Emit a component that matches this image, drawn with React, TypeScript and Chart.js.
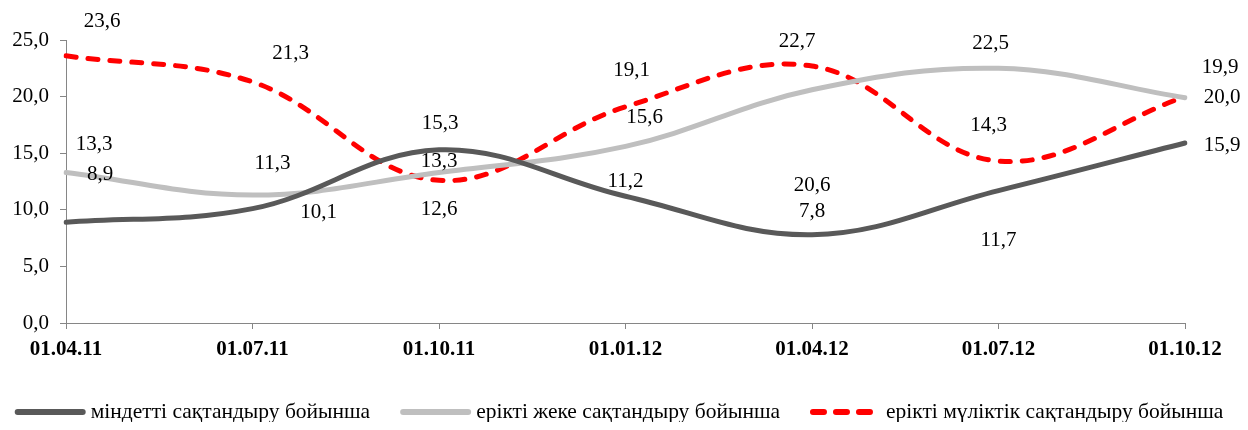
import React, { useEffect, useRef } from "react";
import { Chart, registerables } from "chart.js";

Chart.register(...registerables);

const categories = ["01.04.11", "01.07.11", "01.10.11", "01.01.12", "01.04.12", "01.07.12", "01.10.12"];
const mandatory = [8.9, 10.1, 15.3, 11.2, 7.8, 11.7, 15.9];
const voluntaryPersonal = [13.3, 11.3, 13.3, 15.6, 20.6, 22.5, 19.9];
const voluntaryProperty = [23.6, 21.3, 12.6, 19.1, 22.7, 14.3, 20.0];
const seriesNames = [
  "міндетті сақтандыру бойынша",
  "ерікті жеке сақтандыру бойынша",
  "ерікті мүліктік сақтандыру бойынша",
];
const yMin = 0;
const yMax = 25;
const yStep = 5;

// label placement offsets (px) relative to each point, per series
const LABEL_OFFSETS: number[][][] = [
  [[34, -48], [66, 4], [1, -26], [0, -15], [0, -23], [0, 50], [37, 2]],
  [[28, -28], [20, -32], [0, -11], [19, -29], [0, 96], [-8, -25], [35, -30]],
  [[36, -34], [38, -28], [0, 29], [6, -36], [-15, -25], [-10, -36], [37, 1]],
];

const FONT = "'Liberation Serif', 'Times New Roman', 'DejaVu Serif', serif";

const fmt = (v: number) => v.toFixed(1).replace(".", ",");

const valueLabels = {
  id: "valueLabels",
  afterDatasetsDraw(chart: any) {
    const ctx = chart.ctx;
    ctx.save();
    ctx.font = `21px ${FONT}`;
    ctx.fillStyle = "#000";
    ctx.textAlign = "center";
    ctx.textBaseline = "middle";
    chart.data.datasets.forEach((ds: any, i: number) => {
      const meta = chart.getDatasetMeta(i);
      meta.data.forEach((pt: any, j: number) => {
        const off = LABEL_OFFSETS[i][j];
        ctx.fillText(fmt(ds.data[j]), pt.x + off[0], pt.y + off[1]);
      });
    });
    ctx.restore();
  },
};

const bottomLegend = {
  id: "bottomLegend",
  afterDraw(chart: any) {
    const ctx = chart.ctx;
    ctx.save();
    ctx.font = `21.5px ${FONT}`;
    const sample = 71;
    const lw = 6;
    const gapText = 5;
    const gapItem = 30;
    const ds = chart.data.datasets;
    const widths = ds.map((d: any) => sample + gapText + ctx.measureText(d.label).width);
    const total = widths.reduce((a: number, b: number) => a + b, 0) + gapItem * (ds.length - 1);
    let x = 611 - total / 2;
    const y = chart.height - 10;
    ds.forEach((d: any, i: number) => {
      ctx.save();
      ctx.strokeStyle = d.borderColor;
      ctx.lineWidth = lw;
      ctx.lineCap = "round";
      ctx.setLineDash(d.borderDash ? [11, 12] : []);
      ctx.beginPath();
      ctx.moveTo(x + lw / 2, y);
      ctx.lineTo(x + sample - lw / 2, y);
      ctx.stroke();
      ctx.restore();
      ctx.fillStyle = "#000";
      ctx.textAlign = "left";
      ctx.textBaseline = "middle";
      ctx.fillText(d.label, x + sample + gapText, y);
      x += widths[i] + gapItem;
    });
    ctx.restore();
  },
};

export default function App() {
  const ref = useRef<HTMLCanvasElement | null>(null);
  useEffect(() => {
    if (!ref.current) return;
    const common = {
      borderWidth: 5,
      borderCapStyle: "round",
      borderJoinStyle: "round",
      pointRadius: 0,
      tension: 0.38,
      fill: false,
    };
    const chart = new Chart(ref.current, {
      type: "line",
      data: {
        labels: categories,
        datasets: [
          { ...common, label: seriesNames[0], data: mandatory, borderColor: "#595959", backgroundColor: "#595959" },
          { ...common, label: seriesNames[1], data: voluntaryPersonal, borderColor: "#BFBFBF", backgroundColor: "#BFBFBF" },
          { ...common, label: seriesNames[2], data: voluntaryProperty, borderColor: "#FF0000", backgroundColor: "#FF0000", borderDash: [10, 12] },
        ],
      } as any,
      options: {
        animation: false,
        responsive: true,
        maintainAspectRatio: false,
        layout: { padding: { top: 32, right: 55, left: 0, bottom: 0 } },
        plugins: { legend: { display: false }, tooltip: { enabled: false } },
        scales: {
          x: {
            offset: false,
            grid: { drawOnChartArea: false, drawTicks: true, tickLength: 6, color: "#868686" },
            border: { color: "#868686", width: 1 },
            ticks: { color: "#000", font: { family: FONT, size: 21, weight: "bold" }, padding: 8, maxRotation: 0, autoSkip: false },
            afterFit: (scale: any) => { scale.height = 99; },
          },
          y: {
            min: yMin,
            max: yMax,
            grid: { drawOnChartArea: false, drawTicks: true, tickLength: 6, color: "#868686" },
            border: { color: "#868686", width: 1 },
            ticks: { stepSize: yStep, color: "#000", font: { family: FONT, size: 21 }, padding: 11, callback: (v: any) => fmt(Number(v)) },
            afterFit: (scale: any) => { scale.width = 58; },
          },
        },
      } as any,
      plugins: [valueLabels, bottomLegend],
    });
    return () => chart.destroy();
  }, []);
  return (
    <div style={{ position: "relative", width: 1232, height: 414 }}>
      <canvas ref={ref} />
    </div>
  );
}
